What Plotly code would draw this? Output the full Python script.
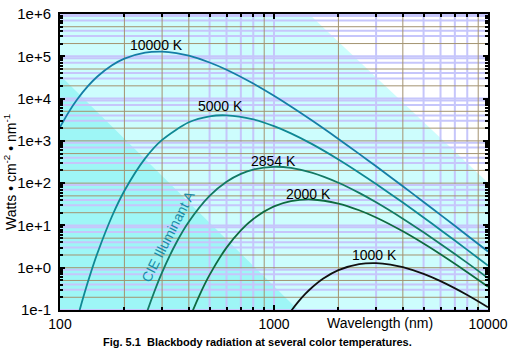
import plotly.graph_objects as go

# ---- data ----
wl_10000 = [100, 110, 120, 135, 150, 175, 200, 250, 300, 350, 400, 500, 600, 800, 1000, 1200, 1500, 2000, 2500, 3000, 4000, 5000, 6000, 8000, 10000]
v_10000 = [2111, 4848, 9336, 19620, 33640, 61270, 87900, 121700, 128300, 118750, 103000, 71330, 48120, 22660, 11640, 6491, 3061, 1110, 492.5, 250.2, 84.4, 35.9, 17.76, 5.80, 2.419]

wl_5000 = [100, 110, 120, 130, 140, 150, 175, 200, 250, 300, 400, 500, 600, 800, 1000, 1200, 1500, 2000, 2500, 3000, 4000, 5000, 6000, 8000, 10000]
v_5000 = [0.00119, 0.01012, 0.0579, 0.2456, 0.824, 2.296, 16.48, 65.93, 384.4, 1051, 2747, 3802, 4010, 3219, 2230, 1504, 848.5, 363.5, 177.3, 95.65, 34.70, 15.39, 7.82, 2.638, 1.122]

wl_2854 = [200, 225, 250, 275, 300, 350, 400, 500, 600, 700, 800, 1000, 1200, 1500, 2000, 2500, 3000, 4000, 5000, 6000, 8000, 10000]
v_2854 = [0.001316, 0.01206, 0.0670, 0.260, 0.7786, 3.956, 12.25, 50.02, 108.0, 166.0, 210.1, 243.5, 228.7, 177.2, 102.2, 58.85, 35.26, 14.46, 6.875, 3.654, 1.301, 0.571]

wl_2000 = [350, 400, 450, 500, 600, 700, 800, 1000, 1200, 1500, 2000, 2500, 3000, 4000, 5000, 6000, 8000, 10000]
v_2000 = [0.00844, 0.0565, 0.2312, 0.675, 2.987, 7.66, 14.20, 28.14, 37.56, 41.07, 32.95, 22.84, 15.40, 7.25, 3.722, 2.077, 0.783, 0.3554]

wl_1000 = [1000, 1100, 1200, 1300, 1400, 1500, 1700, 2000, 2500, 3000, 3500, 4000, 5000, 6000, 8000, 10000]
v_1000 = [0.02111, 0.04848, 0.0934, 0.1573, 0.2395, 0.3364, 0.556, 0.879, 1.217, 1.283, 1.1875, 1.030, 0.7134, 0.4812, 0.2266, 0.1164]

curve_names = ["10000 K", "5000 K", "2854 K", "2000 K", "1000 K"]
curve_colors = ["#147ea6", "#0f8894", "#137a64", "#0e6a40", "#111111"]

x_ticks = [100, 1000, 10000]
x_ticktext = ["100", "1000", "10000"]
y_ticks = [0.1, 1, 10, 100, 1000, 1e4, 1e5, 1e6]
y_ticktext = ["1e-1", "1e+0", "1e+1", "1e+2", "1e+3", "1e+4", "1e+5", "1e+6"]

# grid lines (tan / lavender)
x_grid_tan = [200, 300, 400, 900, 2000, 4000, 9000]
x_grid_lav = [500, 600, 700, 800, 1000, 3000, 5000, 6000, 7000, 8000]
y_grid_tan = []
y_grid_lav = []
for e in range(-1, 6):
    for m in range(1, 10):
        v = m * 10 ** e
        if m in (2, 5) or (m == 1 and e in (0, 2, 3)):
            y_grid_tan.append(v)
        elif m in (1, 3, 4, 7, 9):
            y_grid_lav.append(v)
y_grid_lav.append(1e6)

x_minor = [m * 10 ** e for e in (2, 3) for m in range(2, 10)]
y_minor = [m * 10 ** e for e in range(-1, 6) for m in range(2, 10)]

TAN = "#a39370"
LAV = "#c6c6fb"

fig = go.Figure()

def vlines(vals):
    xs, ys = [], []
    for v in vals:
        xs += [v, v, None]
        ys += [0.1, 1e6, None]
    return xs, ys

def hlines(vals):
    xs, ys = [], []
    for v in vals:
        xs += [100, 10000, None]
        ys += [v, v, None]
    return xs, ys

for (fn, vals, col, w) in [(vlines, x_grid_lav, LAV, 2), (hlines, y_grid_lav, LAV, 2),
                           (vlines, x_grid_tan, TAN, 1), (hlines, y_grid_tan, TAN, 1)]:
    xs, ys = fn(vals)
    fig.add_trace(go.Scatter(x=xs, y=ys, mode="lines", line=dict(color=col, width=w),
                             hoverinfo="skip", showlegend=False))

for wl, v, col in zip([wl_10000, wl_5000, wl_2854, wl_2000, wl_1000],
                      [v_10000, v_5000, v_2854, v_2000, v_1000], curve_colors):
    fig.add_trace(go.Scatter(x=wl, y=v, mode="lines",
                             line=dict(color=col, width=1.8, shape="spline", smoothing=0.8),
                             hoverinfo="skip", showlegend=False))

# plot area in pixels: x 60..495, y 5..310
def px(xp):
    return (xp - 60) / 435.0
def py(yp):
    return (310 - yp) / 305.0

shapes = [
    dict(type="path", xref="paper", yref="paper", layer="below",
         path=f"M {px(313)},{py(5)} L {px(495)},{py(5)} L {px(495)},{py(179)} Z",
         fillcolor="#ffffff", line=dict(width=0)),
    dict(type="path", xref="paper", yref="paper", layer="below",
         path=f"M {px(60)},{py(68)} L {px(302)},{py(310)} L {px(60)},{py(310)} Z",
         fillcolor="#9ef6f6", line=dict(width=0)),
]

FONT = "Liberation Sans, Arial, sans-serif"
annotations = []
label_pos = [(158, 37), (223, 100), (277, 156), (313, 190), (380, 253)]
for name, (lx, ly) in zip(curve_names, label_pos):
    annotations.append(dict(text=name, xref="paper", yref="paper", x=px(lx), y=py(ly),
                            showarrow=False, xanchor="center", yanchor="middle",
                            font=dict(family=FONT, size=14, color="#000000")))
annotations.append(dict(text="CIE Illuminant A", xref="paper", yref="paper", x=px(170), y=py(234),
                        showarrow=False, textangle=-63, xanchor="center", yanchor="middle",
                        font=dict(family=FONT, size=14, color="#1a8aa6")))
annotations.append(dict(text="Wavelength (nm)", xref="paper", yref="paper", x=px(385), y=py(323),
                        showarrow=False, xanchor="center", yanchor="middle",
                        font=dict(family=FONT, size=14, color="#000000")))
annotations.append(dict(text="Watts • cm<sup>-2</sup> • nm<sup>-1</sup>", xref="paper", yref="paper",
                        x=px(9), y=py(168), showarrow=False, textangle=-90,
                        xanchor="center", yanchor="middle",
                        font=dict(family=FONT, size=14, color="#000000")))
annotations.append(dict(text="<b>Fig. 5.1  Blackbody radiation at several color temperatures.</b>",
                        xref="paper", yref="paper", x=px(261), y=py(343), showarrow=False,
                        xanchor="center", yanchor="middle",
                        font=dict(family=FONT, size=11, color="#000000")))

axis_common = dict(type="log", showgrid=False, zeroline=False, showline=True, linecolor="#000000",
                   linewidth=2, mirror="allticks", ticks="inside", ticklen=5, tickwidth=2,
                   tickcolor="#000000", ticklabeloverflow="allow")

fig.update_layout(
    width=513, height=350,
    margin=dict(l=60, r=18, t=5, b=40),
    paper_bgcolor="#ffffff", plot_bgcolor="#cdfdfd",
    showlegend=False,
    shapes=shapes, annotations=annotations,
    xaxis=dict(range=[2, 4], tickmode="array", tickvals=x_ticks, ticktext=x_ticktext,
               tickfont=dict(family=FONT, size=14, color="#000000"),
               minor=dict(tickmode="array", tickvals=x_minor, ticks="inside", ticklen=3,
                          tickwidth=2, tickcolor="#000000", showgrid=False),
               **axis_common),
    yaxis=dict(range=[-1, 6], tickmode="array", tickvals=y_ticks, ticktext=y_ticktext,
               tickfont=dict(family=FONT, size=15, color="#000000"),
               minor=dict(tickmode="array", tickvals=y_minor, ticks="inside", ticklen=3,
                          tickwidth=1.5, tickcolor="#000000", showgrid=False),
               ticklabelstandoff=4,
               **axis_common),
)

fig.write_html("out.html")
